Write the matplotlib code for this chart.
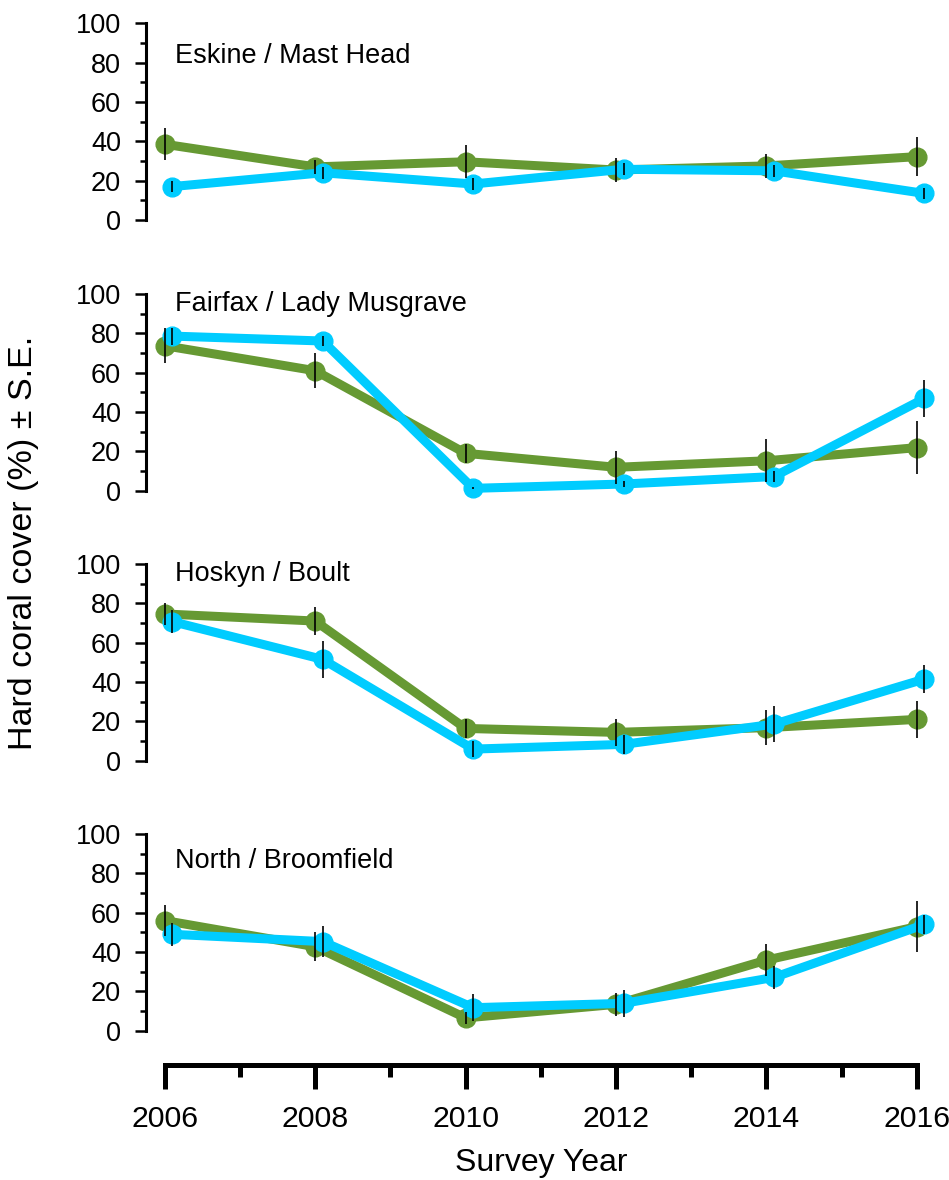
import matplotlib
matplotlib.use("Agg")
import matplotlib.pyplot as plt
from matplotlib.ticker import MultipleLocator

plt.rcParams['font.family'] = ['Liberation Sans', 'DejaVu Sans']

years = [2006, 2008, 2010, 2012, 2014, 2016]
sites = ["Eskine / Mast Head", "Fairfax / Lady Musgrave", "Hoskyn / Boult", "North / Broomfield"]

green_cover = [
    [38.5, 27.0, 29.6, 25.4, 27.5, 32.2],
    [73.7, 61.0, 19.0, 11.9, 15.2, 21.9],
    [74.6, 71.0, 16.4, 14.4, 16.8, 21.0],
    [56.0, 42.7, 6.5, 13.4, 35.9, 52.9],
]
green_se = [
    [8.2, 3.5, 8.5, 6.0, 6.0, 10.0],
    [9.0, 9.0, 4.7, 8.4, 11.0, 13.4],
    [5.5, 7.0, 5.0, 7.0, 9.0, 9.5],
    [8.0, 7.5, 3.0, 6.0, 8.0, 13.0],
]
blue_cover = [
    [17.0, 24.0, 18.3, 25.8, 25.0, 13.5],
    [78.6, 76.1, 1.2, 3.4, 7.2, 46.9],
    [70.7, 51.5, 5.9, 8.3, 18.6, 41.5],
    [49.0, 45.3, 11.7, 13.9, 27.1, 54.0],
]
blue_se = [
    [2.8, 3.0, 3.0, 3.0, 3.0, 3.0],
    [4.3, 2.4, 0.5, 1.5, 3.0, 9.2],
    [6.0, 9.6, 4.0, 5.0, 9.0, 7.0],
    [6.0, 8.0, 7.0, 7.0, 6.0, 4.7],
]

GREEN = "#669933"
BLUE = "#00CCFF"
W, H = 949, 1180
fig = plt.figure(figsize=(W / 100, H / 100), dpi=100)

left_px, right_px = 146, 947
xlim = (2005.75, 2016.4)
blue_offset = 0.1
panel_tops = [23.3, 294.0, 564.0, 834.0]
panel_h = 196.7
title_y = [0.797, 0.914, 0.914, 0.827]

for i, site in enumerate(sites):
    top = panel_tops[i]
    ax = fig.add_axes([left_px / W, 1 - (top + panel_h) / H, (right_px - left_px) / W, panel_h / H])
    ax.set_xlim(*xlim)
    ax.set_ylim(0, 100)
    ax.patch.set_alpha(0)
    for s in ['top', 'right', 'bottom']:
        ax.spines[s].set_visible(False)
    ax.spines['left'].set_linewidth(2.2)
    ax.xaxis.set_visible(False)
    ax.yaxis.set_major_locator(MultipleLocator(20))
    ax.yaxis.set_minor_locator(MultipleLocator(10))
    ax.tick_params(axis='y', which='major', direction='out', length=8, width=1.8, labelsize=19.5, pad=10)
    ax.tick_params(axis='y', which='minor', direction='out', length=4.3, width=1.8)

    xb = [y + blue_offset for y in years]
    ax.plot(years, green_cover[i], color=GREEN, lw=6.5, marker='o', ms=13.5, mec=GREEN, mfc=GREEN,
            clip_on=False, zorder=2, solid_capstyle='round')
    ax.plot(xb, blue_cover[i], color=BLUE, lw=6.5, marker='o', ms=13.5, mec=BLUE, mfc=BLUE,
            clip_on=False, zorder=3, solid_capstyle='round')
    ax.errorbar(years, green_cover[i], yerr=green_se[i], fmt='none', ecolor='black', elinewidth=1.2,
                capsize=0, zorder=5, clip_on=False)
    ax.errorbar(xb, blue_cover[i], yerr=blue_se[i], fmt='none', ecolor='black', elinewidth=1.2,
                capsize=0, zorder=5, clip_on=False)
    ax.text(0.036, title_y[i], site, transform=ax.transAxes, fontsize=19.5, ha='left', va='baseline')

# bottom shared year axis
axis_y = 1065
axb = fig.add_axes([left_px / W, 1 - axis_y / H, (right_px - left_px) / W, 5 / H])
axb.set_xlim(*xlim)
axb.patch.set_alpha(0)
for s in ['top', 'right', 'left']:
    axb.spines[s].set_visible(False)
axb.spines['bottom'].set_linewidth(3.6)
axb.spines['bottom'].set_bounds(2006, 2016)
axb.yaxis.set_visible(False)
axb.set_xticks(years)
axb.set_xticklabels([str(y) for y in years])
axb.xaxis.set_minor_locator(MultipleLocator(1))
axb.tick_params(axis='x', which='major', direction='out', length=17, width=3.6, labelsize=21.8, pad=12)
axb.tick_params(axis='x', which='minor', direction='out', length=8.6, width=3.6)

fig.text(541 / W, 1 - 1163 / H, "Survey Year", fontsize=23, ha='center', va='center')
fig.text(24 / W, 1 - 543 / H, "Hard coral cover (%) \u00b1 S.E.", fontsize=24.5, rotation=90,
         ha='center', va='center')

fig.savefig("out.png", dpi=100)
